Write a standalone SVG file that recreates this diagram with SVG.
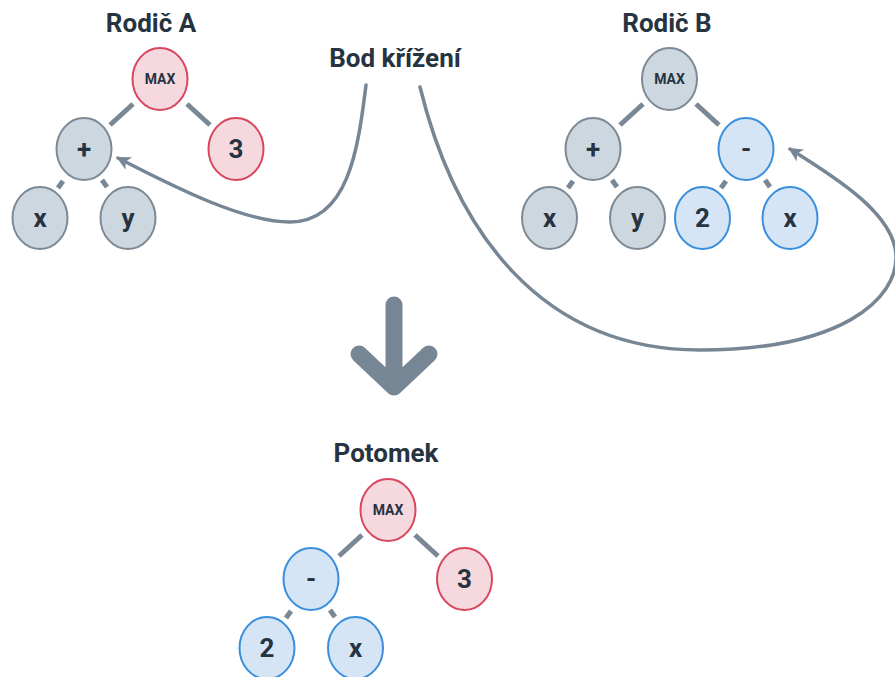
<svg xmlns="http://www.w3.org/2000/svg" width="895" height="677" viewBox="0 0 895 677">
  <style>
    .title { font-family: Roboto, "Liberation Sans", sans-serif; font-weight: 700; font-size: 26px; fill: #263340; text-anchor: middle; }
    .lbl { font-family: Roboto, "Liberation Sans", sans-serif; font-weight: 700; font-size: 26px; fill: #263340; text-anchor: middle; }
    .op { font-family: Roboto, "Liberation Sans", sans-serif; font-weight: 700; font-size: 14px; fill: #263340; text-anchor: middle; }
    .gray { fill: #cdd7e0; stroke: #7d8994; stroke-width: 2; }
    .red { fill: #f6d9de; stroke: #d9475e; stroke-width: 2; }
    .blue { fill: #d5e5f5; stroke: #3a8fdc; stroke-width: 2; }
    .edge { stroke: #7a8795; stroke-width: 5; fill: none; }
    .flow { stroke: #778695; stroke-width: 3.5; fill: none; stroke-linecap: round; }
  </style>
  <defs>
    <marker id="head" viewBox="0 0 12 12" refX="10.5" refY="6" markerWidth="4.4" markerHeight="4.4" orient="auto" markerUnits="strokeWidth">
      <path d="M12,6 L1,0.5 L4,6 L1,11.5 Z" fill="#778695"/>
    </marker>
  </defs>

  <rect width="895" height="677" fill="#ffffff"/>

  <!-- titles -->
  <text class="title" x="151" y="32">Rodič A</text>
  <text class="title" x="667" y="32">Rodič B</text>
  <text class="title" x="395" y="67">Bod křížení</text>
  <text class="title" x="386" y="462">Potomek</text>

  <!-- tree edges and crossover arrows -->
  <g id="connectors">
    <!-- parent A -->
    <line class="edge" x1="133" y1="104" x2="110" y2="125"/>
    <line class="edge" x1="187" y1="104" x2="210" y2="125"/>
    <line class="edge" x1="63" y1="181" x2="58" y2="188"/>
    <line class="edge" x1="102" y1="180" x2="107" y2="187"/>
    <!-- parent B -->
    <line class="edge" x1="643" y1="104" x2="620" y2="125"/>
    <line class="edge" x1="696" y1="104" x2="719" y2="125"/>
    <line class="edge" x1="573" y1="181" x2="568" y2="188"/>
    <line class="edge" x1="612" y1="180" x2="617" y2="187"/>
    <line class="edge" x1="726" y1="181" x2="721" y2="188"/>
    <line class="edge" x1="765" y1="180" x2="770" y2="187"/>
    <!-- offspring -->
    <line class="edge" x1="362" y1="535" x2="339" y2="556"/>
    <line class="edge" x1="415" y1="535" x2="438" y2="556"/>
    <line class="edge" x1="291" y1="611" x2="286" y2="618"/>
    <line class="edge" x1="330" y1="610" x2="335" y2="617"/>
    <!-- crossover point pointers -->
    <path class="flow" d="M366,85 C358,150 348,222 290,222 C245,222 180,190 118,158" marker-end="url(#head)"/>
    <path class="flow" d="M420,87 C455,230 540,350 700,350 C840,350 898,300 896,255 C894,215 840,180 790,149" marker-end="url(#head)"/>
    <!-- big down arrow -->
    <path d="M394,305 L394,384 M359,354 L394,387 L429,354" stroke="#778695" stroke-width="17" fill="none" stroke-linecap="round" stroke-linejoin="round"/>
  </g>

  <!-- parent A nodes -->
  <g id="a-max"><ellipse class="red" cx="160" cy="79" rx="27.5" ry="31"/><text class="op" x="160" y="84">MAX</text></g>
  <g id="a-plus"><ellipse class="gray" cx="84" cy="149" rx="27.5" ry="31"/><text class="lbl" x="84" y="158">+</text></g>
  <g id="a-3"><ellipse class="red" cx="236" cy="149" rx="27.5" ry="31"/><text class="lbl" x="236" y="158">3</text></g>
  <g id="a-x"><ellipse class="gray" cx="40" cy="218" rx="27.5" ry="31"/><text class="lbl" x="40" y="227">x</text></g>
  <g id="a-y"><ellipse class="gray" cx="128" cy="218" rx="27.5" ry="31"/><text class="lbl" x="128" y="227">y</text></g>

  <!-- parent B nodes -->
  <g id="b-max"><ellipse class="gray" cx="669.5" cy="79" rx="27.5" ry="31"/><text class="op" x="669.5" y="84">MAX</text></g>
  <g id="b-plus"><ellipse class="gray" cx="593" cy="149" rx="27.5" ry="31"/><text class="lbl" x="593" y="158">+</text></g>
  <g id="b-minus"><ellipse class="blue" cx="746" cy="149" rx="27.5" ry="31"/><text class="lbl" x="746" y="158">-</text></g>
  <g id="b-x"><ellipse class="gray" cx="549.5" cy="218" rx="27.5" ry="31"/><text class="lbl" x="549.5" y="227">x</text></g>
  <g id="b-y"><ellipse class="gray" cx="637.5" cy="218" rx="27.5" ry="31"/><text class="lbl" x="637.5" y="227">y</text></g>
  <g id="b-2"><ellipse class="blue" cx="702.5" cy="218" rx="27.5" ry="31"/><text class="lbl" x="702.5" y="227">2</text></g>
  <g id="b-x2"><ellipse class="blue" cx="790" cy="218" rx="27.5" ry="31"/><text class="lbl" x="790" y="227">x</text></g>

  <!-- offspring nodes -->
  <g id="c-max"><ellipse class="red" cx="388" cy="510" rx="27.5" ry="31"/><text class="op" x="388" y="515">MAX</text></g>
  <g id="c-minus"><ellipse class="blue" cx="311" cy="579" rx="27.5" ry="31"/><text class="lbl" x="311" y="588">-</text></g>
  <g id="c-3"><ellipse class="red" cx="464.5" cy="579" rx="27.5" ry="31"/><text class="lbl" x="464.5" y="588">3</text></g>
  <g id="c-2"><ellipse class="blue" cx="267" cy="648" rx="27.5" ry="31"/><text class="lbl" x="267" y="657">2</text></g>
  <g id="c-x"><ellipse class="blue" cx="355.5" cy="648" rx="27.5" ry="31"/><text class="lbl" x="355.5" y="657">x</text></g>
</svg>
